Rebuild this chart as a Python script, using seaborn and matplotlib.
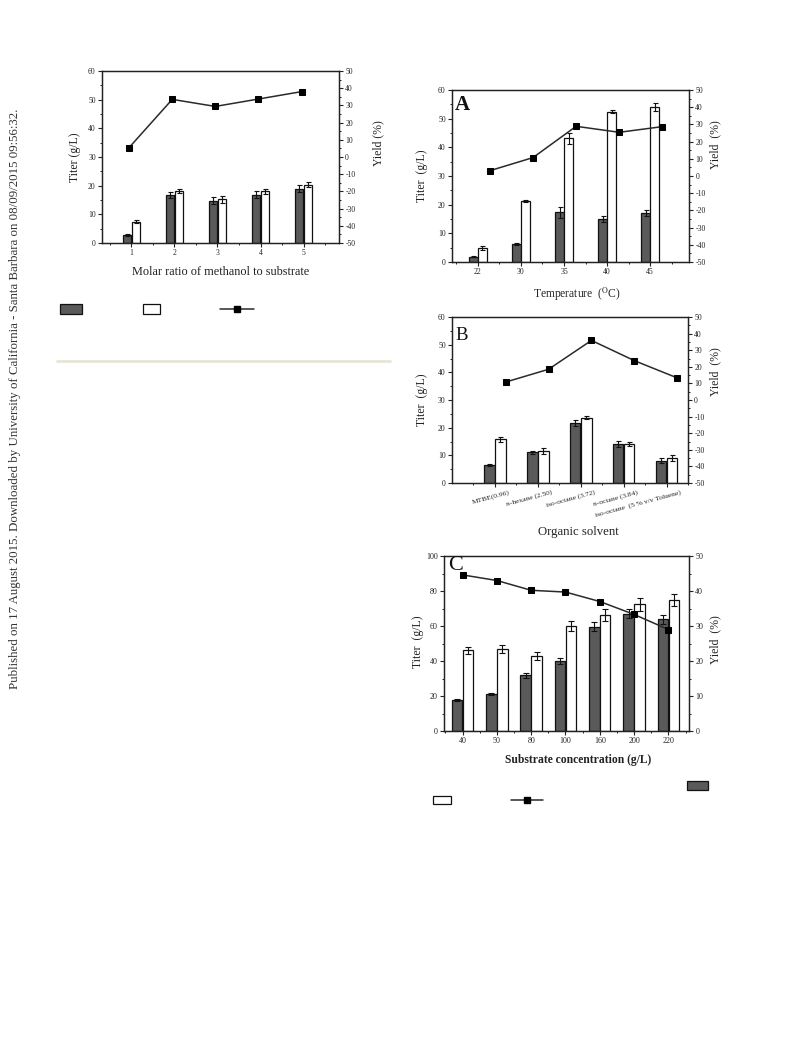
import numpy as np
import pandas as pd
import matplotlib
matplotlib.use("Agg")
import matplotlib.pyplot as plt
import seaborn as sns
from matplotlib.ticker import MultipleLocator, FixedLocator
from matplotlib.transforms import ScaledTranslation
from matplotlib.patches import Rectangle
from matplotlib.lines import Line2D

# ---------------- data ----------------
ratio_labels = ['1', '2', '3', '4', '5']
ratio_dark = [2.8, 16.7, 14.8, 16.8, 19.0]
ratio_dark_err = [0.4, 1.0, 1.2, 1.2, 1.2]
ratio_white = [7.5, 18.1, 15.2, 18.0, 20.4]
ratio_white_err = [0.5, 0.6, 1.1, 0.8, 1.0]
ratio_yield = [5.5, 33.5, 29.4, 33.7, 38.0]

temp_labels = ['22', '30', '35', '40', '45']
temp_dark = [1.9, 6.3, 17.3, 15.1, 17.2]
temp_dark_err = [0.3, 0.4, 1.8, 1.0, 1.0]
temp_white = [5.0, 21.4, 43.1, 52.4, 54.0]
temp_white_err = [0.7, 0.3, 2.0, 0.5, 1.3]
temp_yield = [3.1, 10.7, 28.9, 25.4, 28.7]

solvent_labels = ['MTBE(0.96)', 'n-hexane (2.50)', 'iso-octane (3.72)',
                  'n-octane (3.84)', 'iso-octane  (5 % v/v Toluene)']
solvent_dark = [6.5, 11.1, 21.7, 14.1, 8.1]
solvent_dark_err = [0.4, 0.5, 1.0, 1.2, 0.9]
solvent_white = [15.9, 11.7, 23.6, 14.0, 9.2]
solvent_white_err = [0.9, 1.1, 0.6, 0.8, 1.1]
solvent_yield = [10.8, 18.5, 35.9, 23.7, 13.3]

conc_labels = ['40', '50', '80', '100', '160', '200', '220']
conc_dark = [17.7, 21.3, 31.8, 40.0, 59.6, 67.0, 63.8]
conc_dark_err = [0.5, 0.7, 1.4, 1.8, 2.5, 2.5, 2.6]
conc_white = [46.1, 46.7, 42.7, 60.0, 66.3, 72.4, 74.9]
conc_white_err = [1.9, 2.3, 2.2, 2.9, 3.4, 3.8, 3.2]
conc_yield = [44.6, 43.0, 40.2, 39.7, 37.0, 33.3, 29.0]

side_text = ("Published on 17 August 2015. Downloaded by University of California - "
             "Santa Barbara on 08/09/2015 09:56:32.")

# ---------------- style ----------------
sns.set_theme(style="ticks")
SERIF = ['Liberation Serif', 'DejaVu Serif']
plt.rcParams['font.family'] = SERIF
plt.rcParams['mathtext.fontset'] = 'stix'
plt.rcParams['axes.unicode_minus'] = False
plt.rcParams['axes.linewidth'] = 0.9
plt.rcParams['axes.edgecolor'] = '#222222'

W, H = 793, 1039
fig = plt.figure(figsize=(W / 100, H / 100), dpi=100)

DARK = '#5a5a5a'
TXT = '#222222'


def px_axes(x0, y0, x1, y1):
    return fig.add_axes([x0 / W, 1 - y1 / H, (x1 - x0) / W, (y1 - y0) / H])


def panel(rect, labels, dark, dark_err, white, white_err, yld, *, ylim, ylim2,
          ymaj, ymin, ymaj2, ymin2, xlim, width, gap, line_off, tick_fs,
          ms=4, cap=2.0):
    ax = px_axes(*rect)
    n = len(labels)
    df = pd.DataFrame({
        'cat': list(labels) * 2,
        'series': ['dark'] * n + ['white'] * n,
        'titer': list(dark) + list(white),
    })
    sns.barplot(data=df, x='cat', y='titer', hue='series', order=labels,
                hue_order=['dark', 'white'],
                palette={'dark': DARK, 'white': 'white'}, saturation=1,
                width=width, gap=gap, edgecolor='#111111', linewidth=0.9,
                errorbar=None, legend=False, ax=ax)
    for cont, err in zip(ax.containers, [dark_err, white_err]):
        xs = [b.get_x() + b.get_width() / 2 for b in cont]
        ys = [b.get_height() for b in cont]
        ax.errorbar(xs, ys, yerr=err, fmt='none', ecolor='#111111',
                    elinewidth=0.8, capsize=cap, capthick=0.8, zorder=5)
    ax.set_ylim(*ylim)
    ax.yaxis.set_major_locator(MultipleLocator(ymaj))
    ax.yaxis.set_minor_locator(MultipleLocator(ymin))
    ax.xaxis.set_minor_locator(FixedLocator(np.arange(-1, n + 1) + 0.5))
    ax.tick_params(which='major', direction='out', length=3, width=0.8,
                   labelsize=tick_fs, pad=1.5, colors=TXT)
    ax.tick_params(which='minor', direction='out', length=1.6, width=0.7,
                   colors=TXT)
    ax.set_xlabel('')
    ax.set_ylabel('')

    ax2 = ax.twinx()
    sns.lineplot(x=np.arange(n) + line_off, y=yld, ax=ax2, color='#2a2a2a',
                 linewidth=1.1, marker='s', markersize=ms,
                 markerfacecolor='black', markeredgecolor='black', zorder=6)
    ax2.set_ylim(*ylim2)
    ax2.yaxis.set_major_locator(MultipleLocator(ymaj2))
    ax2.yaxis.set_minor_locator(MultipleLocator(ymin2))
    ax2.tick_params(which='major', direction='out', length=3, width=0.8,
                    labelsize=tick_fs, pad=1.5, colors=TXT)
    ax2.tick_params(which='minor', direction='out', length=1.6, width=0.7,
                    colors=TXT)
    ax2.set_ylabel('')
    ax.set_xlim(*xlim)
    for a in (ax, ax2):
        for s in a.spines.values():
            s.set_visible(True)
            s.set_linewidth(0.9)
            s.set_color('#222222')
    return ax, ax2


def fig_text(x, y, s, **kw):
    kw.setdefault('color', TXT)
    kw.setdefault('ha', 'center')
    kw.setdefault('va', 'center')
    fig.text(x / W, 1 - y / H, s, **kw)


# ---------------- panel: molar ratio ----------------
ax1, ax1b = panel((102, 71, 339, 243), ratio_labels, ratio_dark, ratio_dark_err,
                  ratio_white, ratio_white_err, ratio_yield,
                  ylim=(0, 60), ylim2=(-50, 50), ymaj=10, ymin=5, ymaj2=10,
                  ymin2=5, xlim=(-0.68, 4.82), width=0.41, gap=0.05,
                  line_off=-0.05, tick_fs=5.5, ms=3.8, cap=1.8)
fig_text(75, 157, 'Titer (g/L)', rotation=90, fontsize=8.5)
fig_text(378, 143, 'Yield (%)', rotation=90, fontsize=8.5)
fig_text(221, 272, 'Molar ratio of methanol to substrate', fontsize=8.8)

# ---------------- panel A: temperature ----------------
axA, axAb = panel((452, 90, 689, 262), temp_labels, temp_dark, temp_dark_err,
                  temp_white, temp_white_err, temp_yield,
                  ylim=(0, 60), ylim2=(-50, 50), ymaj=10, ymin=5, ymaj2=10,
                  ymin2=5, xlim=(-0.6, 4.9), width=0.42, gap=0.04,
                  line_off=0.28, tick_fs=5.6, ms=4.2, cap=1.8)
fig_text(422, 176, 'Titer  (g/L)', rotation=90, fontsize=8.5)
fig_text(715, 145, 'Yield  (%)', rotation=90, fontsize=8.5)
fig_text(577, 294, r'Temperature  ($^{\mathrm{O}}$C)', fontsize=8.3)
fig_text(455, 105, 'A', fontsize=15, fontweight='bold', ha='left', color='#111111')

# ---------------- panel B: solvent ----------------
axB, axBb = panel((452, 317, 688, 483), solvent_labels, solvent_dark,
                  solvent_dark_err, solvent_white, solvent_white_err,
                  solvent_yield,
                  ylim=(0, 60), ylim2=(-50, 50), ymaj=10, ymin=5, ymaj2=10,
                  ymin2=5, xlim=(-1.0, 4.5), width=0.515, gap=0.05,
                  line_off=0.25, tick_fs=5.6, ms=4.2, cap=1.8)
for lab in axB.get_xticklabels():
    lab.set_rotation(15)
    lab.set_ha('right')
    lab.set_fontsize(5.4)
    lab.set_transform(lab.get_transform() +
                      ScaledTranslation(0.15, 0, fig.dpi_scale_trans))
fig_text(422, 400, 'Titer  (g/L)', rotation=90, fontsize=8.5)
fig_text(715, 372, 'Yield  (%)', rotation=90, fontsize=8.5)
fig_text(578, 532, 'Organic solvent', fontsize=9.2)
fig_text(455, 336, 'B', fontsize=13.5, ha='left', color='#111111')

# ---------------- panel C: substrate concentration ----------------
axC, axCb = panel((444, 556, 689, 731), conc_labels, conc_dark, conc_dark_err,
                  conc_white, conc_white_err, conc_yield,
                  ylim=(0, 100), ylim2=(0, 50), ymaj=20, ymin=10, ymaj2=10,
                  ymin2=5, xlim=(-0.54, 6.6), width=0.63, gap=0.02,
                  line_off=0.0, tick_fs=5.8, ms=4.2, cap=2.0)
fig_text(418, 642, 'Titer  (g/L)', rotation=90, fontsize=8.5)
fig_text(715, 640, 'Yield  (%)', rotation=90, fontsize=8.5)
fig_text(578, 760, 'Substrate concentration (g/L)', fontsize=8.4,
         fontweight='bold')
fig_text(448, 566, 'C', fontsize=16, ha='left', color='#111111')


# ---------------- legend keys (text lost in source) ----------------
def key_box(x0, y0, x1, y1, fc):
    fig.patches.append(Rectangle((x0 / W, 1 - y1 / H), (x1 - x0) / W,
                                 (y1 - y0) / H, transform=fig.transFigure,
                                 facecolor=fc, edgecolor='#111111',
                                 linewidth=0.9))


def key_line(x0, x1, y):
    fig.lines.append(Line2D([x0 / W, x1 / W], [1 - y / H, 1 - y / H],
                            transform=fig.transFigure, color='#2a2a2a',
                            linewidth=1.1))
    fig.lines.append(Line2D([(x0 + x1) / 2 / W], [1 - y / H],
                            transform=fig.transFigure, marker='s',
                            markersize=4.5, color='black', linestyle='none'))


key_box(60, 304, 82, 313.5, DARK)
key_box(143, 304, 160, 313.5, 'white')
key_line(220, 254, 308.5)

key_box(687, 781, 708, 790, DARK)
key_box(433, 795.5, 451, 803.5, 'white')
key_line(511, 543, 799.5)

# separator rule
fig.lines.append(Line2D([57 / W, 390 / W], [1 - 361 / H, 1 - 361 / H],
                        transform=fig.transFigure, color='#e7e3d6',
                        linewidth=2.0))

# side watermark
fig_text(15, 399, side_text, rotation=90, fontsize=9.25, color='#333333')

fig.savefig('out.png', dpi=100)
